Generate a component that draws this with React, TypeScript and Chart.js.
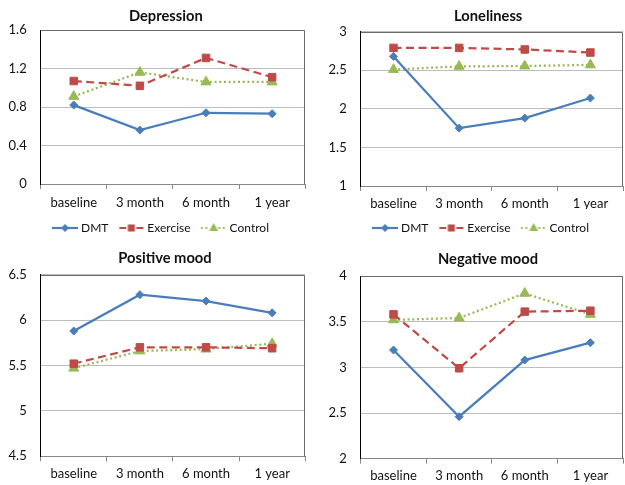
import React, { useEffect, useRef } from "react";
import { Chart, registerables } from "chart.js";

Chart.register(...registerables);

// ---------- data ----------
const categories = ["baseline", "3 month", "6 month", "1 year"];
const seriesNames = ["DMT", "Exercise", "Control"];

const depressionDMT = [0.82, 0.56, 0.74, 0.73];
const depressionExercise = [1.07, 1.02, 1.31, 1.11];
const depressionControl = [0.91, 1.16, 1.06, 1.06];
const depressionTicks = [0, 0.4, 0.8, 1.2, 1.6];

const lonelinessDMT = [2.68, 1.75, 1.88, 2.14];
const lonelinessExercise = [2.79, 2.79, 2.77, 2.73];
const lonelinessControl = [2.51, 2.55, 2.555, 2.57];
const lonelinessTicks = [1, 1.5, 2, 2.5, 3];

const positiveDMT = [5.88, 6.28, 6.21, 6.08];
const positiveExercise = [5.52, 5.7, 5.7, 5.69];
const positiveControl = [5.47, 5.66, 5.68, 5.74];
const positiveTicks = [4.5, 5, 5.5, 6, 6.5];

const negativeDMT = [3.19, 2.46, 3.08, 3.27];
const negativeExercise = [3.58, 2.99, 3.61, 3.62];
const negativeControl = [3.52, 3.54, 3.81, 3.58];
const negativeTicks = [2, 2.5, 3, 3.5, 4];

// ---------- styles ----------
const FONT = "Lato";
const COLORS = ["#4a7ebb", "#be4b48", "#98b954"];
const DASHES: number[][] = [[], [8, 4.5], [2, 2.7]];
const POINT_STYLES = ["rectRot", "rect", "triangle"];
const POINT_RADII = [4, 5.3, 5.8];
const TEXT = "#111111";

type Panel = {
  title: string;
  values: number[][];
  ticks: number[];
  legend: boolean;
  left: number;
  top: number;
  width: number;
  height: number;
  plotLeft: number;
  plotRight: number;
  titleCenterX: number;
  legendCenterX: number;
  titleCenter: number;
  plotTop: number;
  plotBottom: number;
  labelCenter: number;
};

const panels: Panel[] = [
  {
    title: "Depression",
    values: [depressionDMT, depressionExercise, depressionControl],
    ticks: depressionTicks,
    legend: true,
    left: 0, top: 0, width: 312, height: 244,
    plotLeft: 40.7, plotRight: 306.7, titleCenterX: 165.8, legendCenterX: 162,
    titleCenter: 16, plotTop: 30, plotBottom: 184, labelCenter: 203.3,
  },
  {
    title: "Loneliness",
    values: [lonelinessDMT, lonelinessExercise, lonelinessControl],
    ticks: lonelinessTicks,
    legend: true,
    left: 312, top: 0, width: 318, height: 244,
    plotLeft: 48.7, plotRight: 315.3, titleCenterX: 176.2, legendCenterX: 170,
    titleCenter: 16, plotTop: 31.7, plotBottom: 186, labelCenter: 204,
  },
  {
    title: "Positive mood",
    values: [positiveDMT, positiveExercise, positiveControl],
    ticks: positiveTicks,
    legend: false,
    left: 0, top: 242, width: 312, height: 243,
    plotLeft: 40.7, plotRight: 306.7, titleCenterX: 165, legendCenterX: 162,
    titleCenter: 16.7, plotTop: 32.7, plotBottom: 214.3, labelCenter: 232.3,
  },
  {
    title: "Negative mood",
    values: [negativeDMT, negativeExercise, negativeControl],
    ticks: negativeTicks,
    legend: false,
    left: 312, top: 242, width: 318, height: 243,
    plotLeft: 48.7, plotRight: 315.3, titleCenterX: 176, legendCenterX: 170,
    titleCenter: 17.3, plotTop: 34, plotBottom: 216.7, labelCenter: 234.3,
  },
];

const TITLE_SIZE = 14.7;
const TICK_SIZE = 13;
const LEGEND_SIZE = 12;
const LEGEND_PAD = 13;
const TICK_LEN = 5;

function makeLegendIcon(i: number): HTMLCanvasElement {
  const c = document.createElement("canvas");
  c.width = 26;
  c.height = 12;
  const g = c.getContext("2d")!;
  const y = 6;
  g.strokeStyle = COLORS[i];
  g.fillStyle = COLORS[i];
  g.lineWidth = 2.2;
  if (i === 0) {
    g.beginPath();
    g.moveTo(0, y);
    g.lineTo(26, y);
    g.stroke();
    g.beginPath();
    g.moveTo(13, y - 4);
    g.lineTo(17, y);
    g.lineTo(13, y + 4);
    g.lineTo(9, y);
    g.closePath();
    g.fill();
  } else if (i === 1) {
    g.beginPath();
    g.moveTo(1, y);
    g.lineTo(8, y);
    g.moveTo(18, y);
    g.lineTo(25, y);
    g.stroke();
    g.fillRect(9.5, y - 3.5, 7, 7);
  } else {
    g.setLineDash([2, 2.7]);
    g.beginPath();
    g.moveTo(0, y);
    g.lineTo(9, y);
    g.moveTo(17.5, y);
    g.lineTo(26, y);
    g.stroke();
    g.beginPath();
    g.moveTo(13, y - 5);
    g.lineTo(17.5, y + 3);
    g.lineTo(8.5, y + 3);
    g.closePath();
    g.fill();
  }
  return c;
}

const plotBorder = {
  id: "plotBorder",
  beforeDatasetsDraw(chart: any) {
    const { ctx, chartArea: a } = chart;
    ctx.save();
    ctx.strokeStyle = "#6a6a6a";
    ctx.lineWidth = 1;
    const t = Math.round(a.top) + 0.5;
    const r = Math.round(a.right) - 0.5;
    ctx.beginPath();
    ctx.moveTo(a.left, t);
    ctx.lineTo(r, t);
    ctx.lineTo(r, a.bottom);
    ctx.stroke();
    ctx.restore();
  },
};

// shifts the title and legend boxes horizontally to match the reference centring
const boxShift = {
  id: "boxShift",
  afterLayout(chart: any, _args: any, opts: any) {
    const tb = chart.titleBlock;
    if (tb) {
      const d = opts.titleX - (tb.left + tb.right) / 2;
      tb.left += d;
      tb.right += d;
    }
    const lg = chart.legend;
    if (lg && lg.options && lg.options.display) {
      const d = opts.legendX - (lg.left + lg.right) / 2;
      lg.left += d;
      lg.right += d;
    }
  },
};

function PanelChart({ p }: { p: Panel }) {
  const ref = useRef<HTMLCanvasElement | null>(null);

  useEffect(() => {
    if (!ref.current) return;
    const titleLH = TITLE_SIZE * 1.2;
    const tickLH = TICK_SIZE * 1.2;
    const legendH = LEGEND_SIZE + LEGEND_PAD + 10;
    const xHeight = p.height - (p.legend ? legendH : 0) - p.plotBottom;
    const xPad = p.labelCenter - p.plotBottom - TICK_LEN - tickLH / 2;
    const padR = p.width - p.plotRight;
    const icons = seriesNames.map((_, i) => makeLegendIcon(i));

    const chart = new Chart(ref.current, {
      type: "line",
      data: {
        labels: categories,
        datasets: seriesNames.map((name, i) => ({
          label: name,
          data: p.values[i],
          borderColor: COLORS[i],
          backgroundColor: COLORS[i],
          borderWidth: 2.25,
          borderDash: DASHES[i],
          borderCapStyle: "butt",
          tension: 0,
          fill: false,
          pointStyle: POINT_STYLES[i] as any,
          pointRadius: POINT_RADII[i],
          pointHoverRadius: POINT_RADII[i],
          pointBackgroundColor: COLORS[i],
          pointBorderColor: COLORS[i],
          pointBorderWidth: 1,
        })),
      },
      options: {
        responsive: false,
        animation: false,
        devicePixelRatio: 1,
        events: [],
        layout: { padding: { left: 0, right: padR, top: 0, bottom: 0 } },
        plugins: {
          tooltip: { enabled: false },
          boxShift: { titleX: p.titleCenterX, legendX: p.legendCenterX },
          title: {
            display: true,
            text: p.title,
            color: TEXT,
            font: { family: FONT, size: TITLE_SIZE, weight: "bold", lineHeight: 1.2 },
            padding: {
              top: p.titleCenter - titleLH / 2,
              bottom: p.plotTop - p.titleCenter - titleLH / 2,
            },
          },
          legend: {
            display: p.legend,
            position: "bottom",
            labels: {
              usePointStyle: true,
              pointStyleWidth: 20,
              boxHeight: LEGEND_SIZE,
              padding: LEGEND_PAD,
              color: TEXT,
              font: { family: FONT, size: LEGEND_SIZE },
              generateLabels: (c: any) =>
                c.data.datasets.map((ds: any, i: number) => ({
                  text: ds.label,
                  pointStyle: icons[i],
                  fillStyle: "rgba(0,0,0,0)",
                  strokeStyle: "rgba(0,0,0,0)",
                  lineWidth: 0,
                  hidden: false,
                  datasetIndex: i,
                  fontColor: TEXT,
                })),
            },
          },
        } as any,
        scales: {
          x: {
            offset: true,
            afterFit: (s: any) => {
              s.height = xHeight;
            },
            grid: {
              display: true,
              drawOnChartArea: false,
              drawTicks: true,
              tickLength: TICK_LEN,
              offset: true,
              color: "#878787",
            },
            border: { display: true, color: "#878787", width: 1 },
            ticks: {
              color: TEXT,
              padding: xPad,
              maxRotation: 0,
              autoSkip: false,
              font: { family: FONT, size: TICK_SIZE, lineHeight: 1.2 },
            },
          },
          y: {
            min: p.ticks[0],
            max: p.ticks[p.ticks.length - 1],
            afterFit: (s: any) => {
              s.width = p.plotLeft;
            },
            afterBuildTicks: (s: any) => {
              s.ticks = p.ticks.map((v) => ({ value: v }));
            },
            grid: {
              drawTicks: false,
              color: (ctx: any) => (ctx.index === 0 ? "rgba(0,0,0,0)" : "#bdbdbd"),
              lineWidth: 1,
            },
            border: { display: true, color: "#000000", width: 1 },
            ticks: {
              color: TEXT,
              padding: 14,
              font: { family: FONT, size: TICK_SIZE, lineHeight: 1.2 },
              callback: (v: any) => String(v),
            },
          },
        },
      },
      plugins: [plotBorder, boxShift],
    });
    return () => chart.destroy();
  }, [p]);

  return (
    <canvas
      ref={ref}
      width={p.width}
      height={p.height}
      style={{
        position: "absolute",
        left: p.left,
        top: p.top,
        width: p.width,
        height: p.height,
      }}
    />
  );
}

export default function App() {
  return (
    <div
      style={{
        position: "absolute",
        left: 0,
        top: 0,
        width: 625,
        height: 485,
        overflow: "hidden",
        background: "#ffffff",
      }}
    >
      {panels.map((p) => (
        <PanelChart key={p.title} p={p} />
      ))}
    </div>
  );
}
